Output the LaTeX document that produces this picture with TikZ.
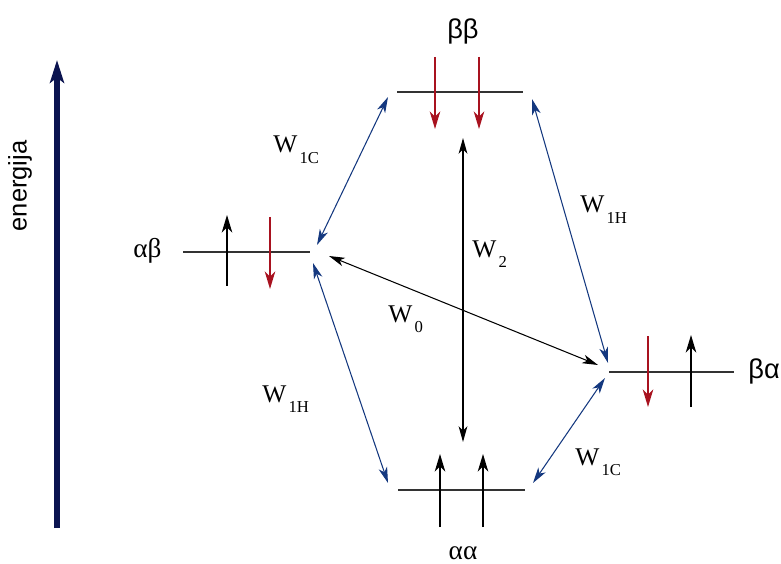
\documentclass[tikz,border=0pt]{standalone}
\usepackage{fontspec}
\setmainfont{Liberation Serif}
\newfontfamily\grsans{Liberation Sans}
\usetikzlibrary{arrows.meta}
\definecolor{enavy}{HTML}{0B1450}
\definecolor{tblue}{HTML}{14387F}
\definecolor{sred}{HTML}{A8121F}
\definecolor{lgrey}{HTML}{333333}
\newcommand{\wsub}[1]{W\kern1.2pt\raisebox{-6pt}{\fontsize{9.5}{10}\selectfont #1}}
\tikzset{
  lvl/.style={draw=lgrey,line width=0.9pt},
  eaxis/.style={-{Stealth[length=13pt,width=8pt,inset=3pt]},line width=3.4pt,draw=enavy},
  spinup/.style={-{Stealth[length=10pt,width=6pt,inset=3pt]},line width=0.8pt,draw=black},
  spindn/.style={-{Stealth[length=10pt,width=6pt,inset=3pt]},line width=0.8pt,draw=sred},
  tr/.style={{Stealth[length=9pt,width=5pt,inset=2.5pt]}-{Stealth[length=9pt,width=5pt,inset=2.5pt]},line width=0.6pt,draw=tblue},
  trk/.style={tr,draw=black},
  wlab/.style={font=\fontsize{14.5}{16}\selectfont,inner sep=0pt,anchor=base west},
  glab/.style={font=\grsans\fontsize{15.5}{17}\selectfont,inner sep=0pt},
  slab/.style={font=\fontsize{15.5}{17}\selectfont,inner sep=0pt},
}
\begin{document}
\begin{tikzpicture}[x=0.02cm,y=-0.02cm]
  \useasboundingbox (0,0) rectangle (781,564);
  % energy axis
  \coordinate (e0) at (57,528);
  \coordinate (e1) at (57,60);
  \draw[eaxis] (e0) -- (e1);
  \node[rotate=90,font=\grsans\fontsize{14.5}{16}\selectfont,inner sep=0pt] (en) at (20,186) {energija};
  % levels
  \coordinate (bbW) at (397,92);  \coordinate (bbE) at (523,92);
  \coordinate (abW) at (183,252); \coordinate (abE) at (310,252);
  \coordinate (baW) at (609,372); \coordinate (baE) at (734,372);
  \coordinate (aaW) at (398,490); \coordinate (aaE) at (525,490);
  \foreach \a/\b in {bbW/bbE,abW/abE,baW/baE,aaW/aaE}
    \draw[lvl] (\a) -- (\b);
  \node[glab,anchor=base] (lbb) at (463,39) {ββ};
  \node[slab,anchor=base west] (lab) at (133,257) {αβ};
  \node[glab,anchor=base west] (lba) at (748,378) {βα};
  \node[slab,anchor=base] (laa) at (463,559) {αα};
  % spins
  \foreach \x/\y/\z in {435/57/129,479/57/129,270/217/289,648/336/407}
    \draw[spindn] (\x,\y) -- (\x,\z);
  \foreach \x/\y/\z in {227/286/215,691/407/335,440/527/454,483/527/454}
    \draw[spinup] (\x,\y) -- (\x,\z);
  % transitions
  \coordinate (bb-l) at (388,97);  \coordinate (bb-r) at (532,99);  \coordinate (bb-b) at (463,138);
  \coordinate (ab-u) at (317,245); \coordinate (ab-d) at (313,263); \coordinate (ab-r) at (329,256);
  \coordinate (ba-u) at (608,363); \coordinate (ba-d) at (605,378); \coordinate (ba-l) at (598,365);
  \coordinate (aa-l) at (388,483); \coordinate (aa-r) at (533,483); \coordinate (aa-t) at (463,442);
  \draw[tr] (bb-l) -- (ab-u);
  \draw[tr] (bb-r) -- (ba-u);
  \draw[tr] (ab-d) -- (aa-l);
  \draw[tr] (ba-d) -- (aa-r);
  \draw[trk] (bb-b) -- (aa-t);
  \draw[trk] (ab-r) -- (ba-l);
  \node[wlab] (w1c) at (273,153) {\wsub{1C}};
  \node[wlab] (w1h) at (580,213) {\wsub{1H}};
  \node[wlab] (w2) at (472,257) {\wsub{2}};
  \node[wlab] (w0) at (388,322) {\wsub{0}};
  \node[wlab] (w1hb) at (262,402) {\wsub{1H}};
  \node[wlab] (w1cb) at (575,465) {\wsub{1C}};
\end{tikzpicture}
\end{document}
